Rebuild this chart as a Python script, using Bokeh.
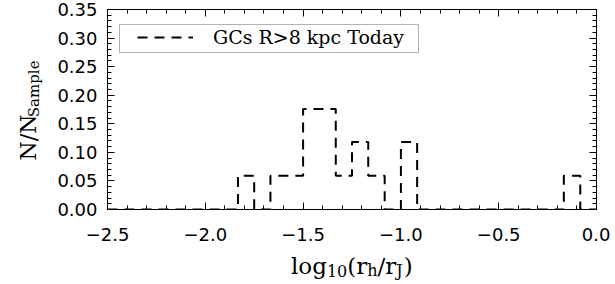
import numpy as np
from bokeh.plotting import figure
from bokeh.layouts import row, column
from bokeh.models import (Range1d, LinearAxis, FixedTicker, Label, BoxAnnotation,
                          Legend, LegendItem, CustomLabelingPolicy)
from bokeh.embed import file_html
from bokeh.resources import INLINE

# ---- data ----
bin_edges = [-2.500, -2.417, -2.333, -2.250, -2.167, -2.083, -2.000, -1.917,
             -1.833, -1.750, -1.667, -1.583, -1.500, -1.417, -1.333, -1.250,
             -1.167, -1.083, -1.000, -0.917, -0.833, -0.750, -0.667, -0.583,
             -0.500, -0.417, -0.333, -0.250, -0.167, -0.083, 0.000]
frac = [0.0, 0.0, 0.0, 0.0, 0.0, 0.0, 0.0, 0.0,
        0.059, 0.0, 0.059, 0.059, 0.176, 0.176, 0.059, 0.118,
        0.059, 0.0, 0.118, 0.0, 0.0, 0.0, 0.0, 0.0,
        0.0, 0.0, 0.0, 0.0, 0.059, 0.0]
series_label = "GCs R>8 kpc Today"

x_ticks = [-2.5, -2.0, -1.5, -1.0, -0.5, 0.0]
x_tick_labels = ["\u22122.5", "\u22122.0", "\u22121.5", "\u22121.0", "\u22120.5", "0.0"]
y_ticks = [0, 0.05, 0.10, 0.15, 0.20, 0.25, 0.30, 0.35]
y_tick_labels = ["0.00", "0.05", "0.10", "0.15", "0.20", "0.25", "0.30", "0.35"]

# step outline of the histogram
xs, ys = [], []
for i, v in enumerate(frac):
    xs += [bin_edges[i], bin_edges[i + 1]]
    ys += [v, v]

x_minor = [round(v, 2) for v in np.arange(-2.5, 0.001, 0.1)]
y_minor = [round(v, 2) for v in np.arange(0.0, 0.3501, 0.01)]

YT_W = 44            # width of the y-title strip
MAIN_W, MAIN_H = 566, 248
XT_H = 36            # height of the x-title strip
TOTAL_H = MAIN_H + XT_H

p = figure(width=MAIN_W, height=MAIN_H, output_backend="svg", toolbar_location=None,
           x_range=Range1d(-2.5, 0.0), y_range=Range1d(0.0, 0.35),
           min_border_left=63, min_border_right=14, min_border_top=9,
           min_border_bottom=39, x_axis_location=None, y_axis_location=None)
p.grid.visible = False
p.outline_line_color = "black"
p.outline_line_width = 1
p.background_fill_color = "white"
p.border_fill_color = "white"

xt = FixedTicker(ticks=x_ticks, minor_ticks=x_minor)
yt = FixedTicker(ticks=y_ticks, minor_ticks=y_minor)

TICK_FONT = "DejaVu Sans"


def style(ax, ticks, labels):
    ax.axis_line_color = "black"
    ax.major_tick_line_color = "black"
    ax.minor_tick_line_color = "black"
    ax.major_tick_in = 7
    ax.major_tick_out = 0
    ax.minor_tick_in = 4
    ax.minor_tick_out = 0
    if labels is not None:
        ax.major_label_overrides = dict(zip(ticks, labels))
        ax.major_label_text_font = TICK_FONT
        ax.major_label_text_font_size = "18px"
        ax.major_label_text_color = "black"
    else:
        # ticks only: the box axes carry no labels and take no room
        ax.major_label_overrides = {t: "" for t in ticks}
        ax.major_label_policy = CustomLabelingPolicy(code="return []")
        ax.major_label_text_font_size = "1px"
        ax.major_label_standoff = 0


bottom = LinearAxis(ticker=xt)
style(bottom, x_ticks, x_tick_labels)
bottom.major_label_standoff = 18
left = LinearAxis(ticker=yt)
style(left, y_ticks, y_tick_labels)
left.major_label_standoff = 10
top = LinearAxis(ticker=xt)
style(top, x_ticks, None)
right = LinearAxis(ticker=yt)
style(right, y_ticks, None)
p.add_layout(bottom, "below")
p.add_layout(left, "left")
p.add_layout(top, "above")
p.add_layout(right, "right")

r = p.line(xs, ys, line_color="black", line_width=2, line_dash="10 7")

legend = Legend(items=[LegendItem(label=series_label, renderers=[r])],
                location=(30, 161), border_line_color=None, background_fill_alpha=0,
                padding=0, margin=0, glyph_width=56, glyph_height=20,
                label_height=20, label_standoff=20, label_text_color="black",
                label_text_font="DejaVu Serif", label_text_font_size="19px")
p.add_layout(legend)
p.add_layout(BoxAnnotation(left=12, right=311, top=185, bottom=157,
                           left_units="screen", right_units="screen",
                           top_units="screen", bottom_units="screen",
                           fill_color=None, line_color="black", line_width=1))

SERIF = "DejaVu Serif"


def strip(w, h):
    f = figure(width=w, height=h, output_backend="svg", toolbar_location=None,
               min_border=0, x_axis_location=None, y_axis_location=None)
    f.grid.visible = False
    f.outline_line_color = None
    f.background_fill_color = "white"
    f.border_fill_color = "white"
    return f


# x-axis title strip: log10(rh/rJ)  (its frame lines up with the plot frame)
xfig = strip(MAIN_W, XT_H)
x_parts = [("log", 183.5, 19, "23px"), ("10", 219.4, 14, "16px"),
           ("(r", 239.8, 19, "23px"), ("h", 259.8, 14, "16px"),
           ("/r", 270.1, 19, "23px"), ("J", 288.8, 14, "16px"),
           (")", 296.3, 19, "23px")]
for t, sx, sy, fs in x_parts:
    xfig.add_layout(Label(x=sx, y=sy, x_units="screen", y_units="screen", text=t,
                          text_font=SERIF, text_font_size=fs, text_color="black",
                          text_align="left", text_baseline="alphabetic"))

# y-axis title strip: N/N_Sample
yfig = strip(YT_W, TOTAL_H)
y_parts = [("N/N", 28, 124, "22px"), ("Sample", 33, 167.3, "15px")]
for t, sx, sy, fs in y_parts:
    yfig.add_layout(Label(x=sx, y=sy, x_units="screen", y_units="screen", text=t,
                          angle=np.pi / 2, text_font=SERIF, text_font_size=fs,
                          text_color="black", text_align="left",
                          text_baseline="alphabetic"))

layout = row(yfig, column(p, xfig))
open("out.html", "w").write(file_html(layout, INLINE))
